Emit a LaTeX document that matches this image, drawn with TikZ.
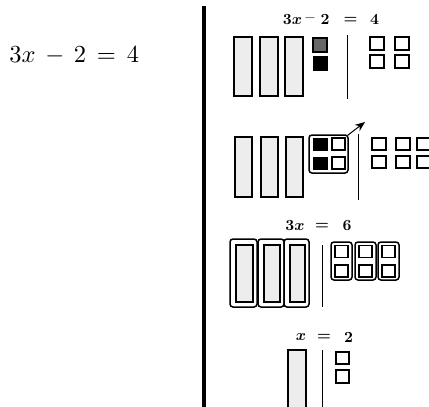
\documentclass[tikz,border=0pt]{standalone}
\usepackage{amsmath,amssymb}
\usepackage{xcolor}
\usepackage{tikz}
\usetikzlibrary{arrows.meta}
\tikzset{
  bar/.style={draw, line width=1.7pt, fill=black!7},
  unit/.style={draw, line width=1.4pt},
  neg/.style={fill=black},
  grp/.style={draw, line width=1.5pt, rounded corners=3pt},
  sep/.style={line width=1pt},
  lbl/.style={inner sep=0pt, scale=1.55, font=\boldmath},
}
\begin{document}
\begin{tikzpicture}[x=1pt,y=-1pt]
\clip (0,0) rectangle (429,407);
\node[inner sep=0pt, anchor=west, scale=2.45] (eq) at (9,56) {$3x \,-\, 2 \,=\, 4$};
\draw[line width=3.5pt] (204,6) -- (204,407);

% 3x - 2 = 4
\node[lbl] (r1a) at (292.5,20) {$3x$};
\node[lbl] (r1b) at (310,20) {\textbf{--}};
\node[lbl] (r1c) at (325,20) {$2$};
\node[lbl] (r1d) at (350.5,20) {$=$};
\node[lbl] (r1e) at (374.5,20) {$4$};
\foreach \x in {234,260,285} \draw[bar] (\x,37) rectangle ++(18,59);
\draw[unit, fill=black!60] (313,38) rectangle (327,52);
\draw[neg] (313,56) rectangle (327,70);
\draw[sep] (347,35) -- (347,99);
\foreach \x in {370,395} \foreach \y in {37,55} \draw[unit] (\x,\y) rectangle ++(14,13);

% add two
\foreach \x in {235,261,286} \draw[bar] (\x,137) rectangle ++(17,60);
\node[grp, minimum width=39pt, minimum height=38pt, inner sep=0pt] (pair) at (328.5,154) {};
\draw[neg] (313,138) rectangle (327,150);
\draw[neg] (313,157) rectangle (327,169);
\draw[unit] (332,138) rectangle (345,150);
\draw[unit] (332,157) rectangle (345,169);
\coordinate (tip) at (365,122);
\draw[-{Stealth[length=10pt,width=8pt]}, line width=1pt] ([shift={(-1,1)}]pair.north east) -- (tip);
\draw[sep] (358,134) -- (358,200);
\foreach \x in {372,396,417} \foreach \y in {138,156} \draw[unit] (\x,\y) rectangle ++(14,12);

% 3x = 6
\node[lbl] (r3a) at (295,226) {$3x$};
\node[lbl] (r3b) at (322,226) {$=$};
\node[lbl] (r3c) at (347,226) {$6$};
\foreach \x/\w in {230/27,258/26,284/25} {
  \draw[grp] (\x,239) rectangle ++(\w,68);
  \draw[bar] (\x+6,245) rectangle ++(\w-10,57);
}
\draw[sep] (322,245) -- (322,307);
\foreach \x in {331,355,378} {
  \draw[grp] (\x,242) rectangle ++(21,38);
  \draw[unit] (\x+4,245.5) rectangle ++(13,12);
  \draw[unit] (\x+4,265) rectangle ++(13,12);
}

% x = 2
\node[lbl] (r4a) at (301,337.5) {$x$};
\node[lbl] (r4b) at (324,337.5) {$=$};
\node[lbl] (r4c) at (348.5,337.5) {$2$};
\draw[bar] (288,350) rectangle (306,412);
\draw[sep] (322,350) -- (322,407);
\draw[unit] (336,352) rectangle (349,364);
\draw[unit] (336,370) rectangle (349,383);
\end{tikzpicture}
\end{document}
